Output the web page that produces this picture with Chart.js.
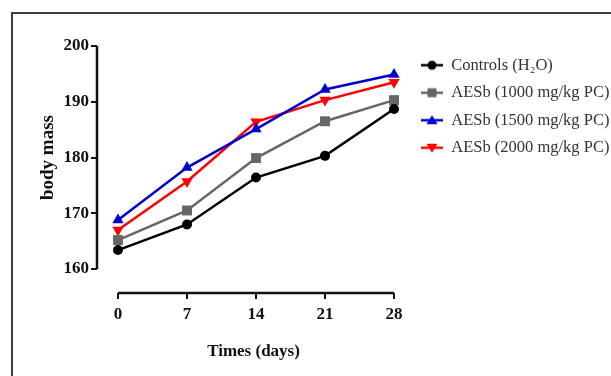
<!DOCTYPE html>
<html>
<head>
<meta charset="utf-8">
<script src="https://cdn.jsdelivr.net/npm/chart.js@4"></script>
<style>
  html, body { margin: 0; padding: 0; background: #fff; }
  #wrap { position: relative; width: 611px; height: 376px; overflow: hidden; }
  #frame { position: absolute; left: 11px; top: 12px; width: 700px; height: 500px;
           border-left: 2px solid #3c3c3c; border-top: 2px solid #3c3c3c; }
  #bodyChart { position: absolute; left: 0; top: 0; }
</style>
</head>
<body>
<div id="wrap">
  <div id="frame"></div>
  <canvas id="bodyChart" width="611" height="376"></canvas>
</div>
<script>
const days = [0, 7, 14, 21, 28];
const yTicks = [160, 170, 180, 190, 200];
const seriesNames = ["Controls (H\u2082O)", "AESb (1000 mg/kg PC)", "AESb (1500 mg/kg PC)", "AESb (2000 mg/kg PC)"];
const controls = [163.4, 168.0, 176.4, 180.3, 188.7];
const aesb1000 = [165.2, 170.5, 179.9, 186.5, 190.3];
const aesb1500 = [168.8, 178.2, 185.1, 192.2, 194.9];
const aesb2000 = [167.0, 175.7, 186.4, 190.3, 193.5];

const serif = "'Liberation Serif', 'Times New Roman', serif";
const ink = "#111";

const styles = [
    { color: "#000000", point: "circle", radius: 5, rotation: 0 },
    { color: "#666666", point: "rect", radius: 7, rotation: 0 },
    { color: "#0000cc", point: "triangle", radius: 6.5, rotation: 0 },
    { color: "#ff0000", point: "triangle", radius: 6.5, rotation: 180 }
];

// little line+marker icons for the legend
function legendIcon(st) {
    const c = document.createElement("canvas");
    c.width = 22; c.height = 14;
    const g = c.getContext("2d");
    g.strokeStyle = st.color;
    g.lineWidth = 2.5;
    g.beginPath(); g.moveTo(0, 7); g.lineTo(22, 7); g.stroke();
    g.fillStyle = st.color;
    g.beginPath();
    if (st.point === "circle") {
        g.arc(11, 7, 4.5, 0, Math.PI * 2);
    } else if (st.point === "rect") {
        g.rect(6.5, 2.5, 9, 9);
    } else if (st.rotation === 180) {
        g.moveTo(5.5, 3); g.lineTo(16.5, 3); g.lineTo(11, 12);
    } else {
        g.moveTo(5.5, 11); g.lineTo(16.5, 11); g.lineTo(11, 2);
    }
    g.closePath(); g.fill();
    return c;
}
const icons = styles.map(legendIcon);

const allValues = [controls, aesb1000, aesb1500, aesb2000];
const datasets = allValues.map((vals, i) => ({
    label: seriesNames[i],
    data: days.map((d, k) => ({ x: d, y: vals[k] })),
    borderColor: styles[i].color,
    backgroundColor: styles[i].color,
    borderWidth: 2.5,
    pointStyle: styles[i].point,
    pointRadius: styles[i].radius,
    pointRotation: styles[i].rotation,
    pointBorderWidth: 0,
    tension: 0,
    clip: false
}));

// legend is wider than chart.js lets a side box be, so widen it after fit
const wideLegend = {
    id: "wideLegend",
    afterInit(chart) {
        const lg = chart.legend;
        const fit = lg.fit.bind(lg);
        lg.fit = function () { fit(); this.width = 201; };
    }
};

// GraphPad-like detached axes, drawn from the scales
const axesPlugin = {
    id: "axes",
    afterDraw(chart) {
        const { ctx, chartArea, scales } = chart;
        const xs = scales.x, ys = scales.y;
        ctx.save();
        ctx.strokeStyle = ink;
        ctx.lineWidth = 2.5;
        ctx.beginPath();
        ctx.moveTo(chartArea.left, ys.getPixelForValue(yTicks[0]));
        ctx.lineTo(chartArea.left, ys.getPixelForValue(yTicks[yTicks.length - 1]));
        ctx.moveTo(xs.getPixelForValue(days[0]), chartArea.bottom);
        ctx.lineTo(xs.getPixelForValue(days[days.length - 1]), chartArea.bottom);
        ctx.stroke();
        const mid = (ys.getPixelForValue(yTicks[0]) + ys.getPixelForValue(yTicks[yTicks.length - 1])) / 2;
        ctx.translate(48, mid);
        ctx.rotate(-Math.PI / 2);
        ctx.fillStyle = ink;
        ctx.font = "bold 19px " + serif;
        ctx.textAlign = "center";
        ctx.textBaseline = "middle";
        ctx.fillText("body mass", 0, 0);
        ctx.restore();
    }
};

new Chart(document.getElementById("bodyChart"), {
    type: "line",
    data: { datasets: datasets },
    plugins: [wideLegend, axesPlugin],
    options: {
        responsive: false,
        animation: false,
        layout: { padding: { top: 46, right: 0, left: 0, bottom: 0 } },
        plugins: {
            tooltip: { enabled: false },
            legend: {
                position: "right",
                align: "start",
                labels: {
                    usePointStyle: true,
                    pointStyleWidth: 22,
                    boxHeight: 14,
                    padding: 11,
                    color: "#333",
                    font: { family: serif, size: 16.5 },
                    generateLabels: chart =>
                        Chart.defaults.plugins.legend.labels.generateLabels(chart)
                            .map((l, i) => ({ ...l, pointStyle: icons[i], rotation: 0 }))
                }
            }
        },
        scales: {
            x: {
                type: "linear",
                min: -2.13,
                max: 29.62,
                afterBuildTicks: s => { s.ticks = days.map(v => ({ value: v })); },
                afterFit: s => { s.height = 83; },
                border: { display: false },
                grid: { drawOnChartArea: false, tickLength: 6, lineWidth: 2, color: ink },
                ticks: { color: ink, padding: 5, maxRotation: 0, autoSkip: false,
                         font: { family: serif, size: 17, weight: "bold" } },
                title: { display: true, text: "Times (days)", color: ink,
                         padding: { top: 0, bottom: 14 },
                         font: { family: serif, size: 17, weight: "bold" } }
            },
            y: {
                min: 155.7,
                max: 200,
                afterBuildTicks: s => { s.ticks = yTicks.map(v => ({ value: v })); },
                afterFit: s => { s.width = 97; },
                border: { display: false },
                grid: { drawOnChartArea: false, tickLength: 6, lineWidth: 2, color: ink },
                ticks: { color: ink, padding: 2,
                         font: { family: serif, size: 17, weight: "bold" } }
            }
        }
    }
});
</script>
</body>
</html>
